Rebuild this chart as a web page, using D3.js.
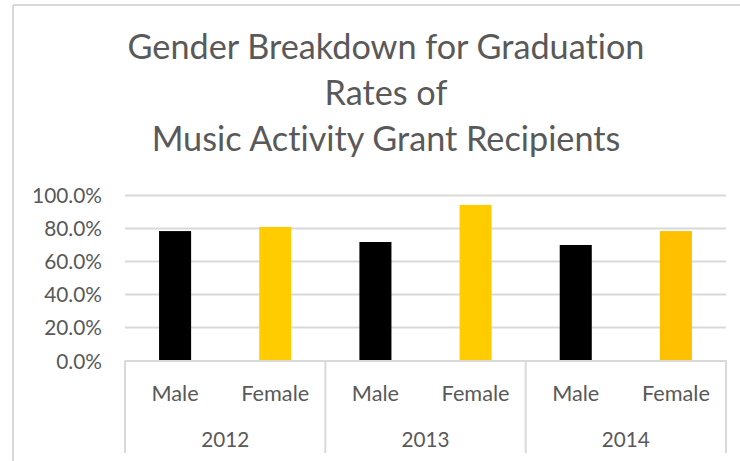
<!DOCTYPE html>
<html>
<head>
<meta charset="utf-8">
<script src="https://cdn.jsdelivr.net/npm/d3@7"></script>
<style>
  html, body { margin: 0; padding: 0; background: #fff; }
  svg { display: block; }
  text { font-family: Lato, "Open Sans", sans-serif; fill: #595959; font-variant-ligatures: none; font-feature-settings: "liga" 0, "dlig" 0; }
</style>
</head>
<body>
<svg id="chart" width="740" height="461"></svg>
<script>
// ---- data ----
const titleLines = ["Gender Breakdown for Graduation", "Rates of", "Music Activity Grant Recipients"];
const years = ["2012", "2013", "2014"];
const genders = ["Male", "Female"];
const maleValues = [78.2, 71.6, 69.8];
const femaleValues = [80.7, 94.0, 78.2];
const femaleColors = ["#FFCC00", "#FFCC00", "#FFC000"];
const maleColor = "#000000";
const yTicks = [0, 20, 40, 60, 80, 100];

const rows = [];
years.forEach((y, i) => {
  rows.push({ year: y, gender: "Male", value: maleValues[i], color: maleColor });
  rows.push({ year: y, gender: "Female", value: femaleValues[i], color: femaleColors[i] });
});

const svg = d3.select("#chart");
const W = 740, H = 461;
const plot = { left: 125, right: 726, top: 195, bottom: 360.5 };
const grey = "#d9d9d9";

// outer chart border (only top & left visible in crop)
svg.append("line").attr("x1", 13).attr("x2", W).attr("y1", 5).attr("y2", 5)
  .attr("stroke", grey).attr("stroke-width", 2);
svg.append("line").attr("x1", 13).attr("x2", 13).attr("y1", 5).attr("y2", H)
  .attr("stroke", grey).attr("stroke-width", 2);

function fitSize(sampleText, targetWidth, weight) {
  const t = svg.append("text").attr("font-size", 100).attr("font-weight", weight || 400).text(sampleText);
  const w = t.node().getComputedTextLength();
  t.remove();
  return 100 * targetWidth / w;
}

// title
const titleWeight = 400;
const titleSize = fitSize(titleLines[0], 517, titleWeight);
const titleBaselines = [59, 105, 151];
svg.append("g").selectAll("text").data(titleLines).join("text")
  .attr("x", 386).attr("y", (d, i) => titleBaselines[i])
  .attr("text-anchor", "middle")
  .attr("font-size", titleSize)
  .attr("font-weight", titleWeight)
  .text(d => d);

// scales
const y = d3.scaleLinear().domain([0, 100]).range([plot.bottom, plot.top]);
const keys = rows.map(r => r.year + "|" + r.gender);
const x = d3.scaleBand().domain(keys).range([plot.left, plot.right])
  .paddingInner(0.68).paddingOuter(0.34);
const xYear = d3.scaleBand().domain(years).range([plot.left, plot.right]);

// gridlines
svg.append("g").selectAll("line").data(yTicks.filter(t => t > 0)).join("line")
  .attr("x1", plot.left).attr("x2", plot.right)
  .attr("y1", d => Math.round(y(d)) + 0.5).attr("y2", d => Math.round(y(d)) + 0.5)
  .attr("stroke", grey).attr("stroke-width", 2);

// y axis labels
const tickSize = fitSize("100.0%", 70);
const yAxis = d3.axisLeft(y).tickValues(yTicks).tickSize(0).tickPadding(0)
  .tickFormat(d => d3.format(".1f")(d) + "%");
const yg = svg.append("g").attr("transform", `translate(102,0)`).call(yAxis);
yg.select(".domain").remove();
yg.selectAll("text").attr("font-size", tickSize).attr("fill", "#595959")
  .attr("font-family", null).attr("dy", "0.36em");

// bars
svg.append("g").selectAll("rect").data(rows).join("rect")
  .attr("x", d => x(d.year + "|" + d.gender))
  .attr("width", x.bandwidth())
  .attr("y", d => y(d.value))
  .attr("height", d => y(0) - y(d.value))
  .attr("fill", d => d.color);

// category axis line and separators
svg.append("line").attr("x1", plot.left).attr("x2", plot.right + 1)
  .attr("y1", plot.bottom + 0.5).attr("y2", plot.bottom + 0.5)
  .attr("stroke", grey).attr("stroke-width", 2);
const seps = years.map(yv => xYear(yv)).concat([plot.right]);
svg.append("g").selectAll("line").data(seps).join("line")
  .attr("x1", d => d).attr("x2", d => d)
  .attr("y1", plot.bottom).attr("y2", 453)
  .attr("stroke", grey).attr("stroke-width", 2);

// category labels
const catSize = fitSize("Female", 68);
svg.append("g").selectAll("text").data(rows).join("text")
  .attr("x", d => x(d.year + "|" + d.gender) + x.bandwidth() / 2)
  .attr("y", 401)
  .attr("text-anchor", "middle")
  .attr("font-size", catSize)
  .text(d => d.gender);

const yearSize = fitSize("2012", 48);
svg.append("g").selectAll("text").data(years).join("text")
  .attr("x", d => xYear(d) + xYear.bandwidth() / 2)
  .attr("y", 447)
  .attr("text-anchor", "middle")
  .attr("font-size", yearSize)
  .text(d => d);
</script>
</body>
</html>
